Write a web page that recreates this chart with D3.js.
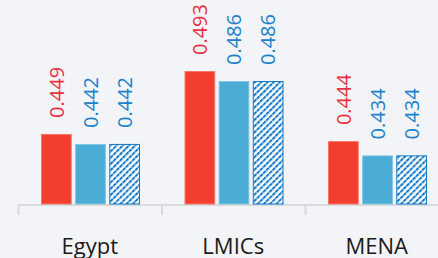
<!DOCTYPE html>
<html><head><meta charset="utf-8">
<script src="https://cdn.jsdelivr.net/npm/d3@7"></script>
<style>
html,body{margin:0;padding:0;background:#f3f4f7;}
svg{display:block;}
</style></head>
<body>
<svg id="chart" width="438" height="258"></svg>
<script>
const categories = ["Egypt", "LMICs", "MENA"];
const seriesNames = ["Series A", "Series B", "Series C"];
const seriesA = [0.449, 0.493, 0.444];
const seriesB = [0.442, 0.486, 0.434];
const seriesC = [0.442, 0.486, 0.434];
const labelsA = ["0.449", "0.493", "0.444"];
const labelsB = ["0.442", "0.486", "0.434"];
const labelsC = ["0.442", "0.486", "0.434"];

const svg = d3.select("#chart");
const W = 438, H = 258;
svg.append("rect").attr("width", W).attr("height", H).attr("fill", "#f3f4f7");

const defs = svg.append("defs");
const pat = defs.append("pattern").attr("id", "hatch").attr("patternUnits", "userSpaceOnUse")
  .attr("width", 4.4).attr("height", 4.4).attr("patternTransform", "rotate(45)");
pat.append("rect").attr("width", 4.4).attr("height", 4.4).attr("fill", "#ffffff");
pat.append("line").attr("x1", 1).attr("y1", 0).attr("x2", 1).attr("y2", 4.4)
  .attr("stroke", "#0c76c8").attr("stroke-width", 2).attr("stroke-dasharray", "2.4 0.6");

const baseY = 204;
const x = d3.scaleBand().domain(categories).range([18, 18 + 3 * 143.5]).padding(0);
const x1 = d3.scaleBand().domain(seriesNames).range([23, 122]).paddingInner(0.1);
const y = d3.scaleLinear().domain([0.4, 0.5]).range([baseY, baseY - 143]);

const seriesData = [
  {name: seriesNames[0], values: seriesA, labels: labelsA, fill: "#f23e2c", stroke: "#f7776b", text: "#e8303f"},
  {name: seriesNames[1], values: seriesB, labels: labelsB, fill: "#4badd6", stroke: "#7fc5e4", text: "#1b82cc"},
  {name: seriesNames[2], values: seriesC, labels: labelsC, fill: "url(#hatch)", stroke: "#1379c9", text: "#1b82cc"}
];

// axis line and ticks
svg.append("line").attr("x1", x(categories[0])).attr("x2", W).attr("y1", baseY + 1).attr("y2", baseY + 1)
  .attr("stroke", "#d9dadc").attr("stroke-width", 2);
svg.selectAll(".tick").data(categories).enter().append("line")
  .attr("x1", d => x(d) + 0.5).attr("x2", d => x(d) + 0.5).attr("y1", baseY).attr("y2", 215)
  .attr("stroke", "#d9dadc").attr("stroke-width", 2);

const g = svg.selectAll(".grp").data(categories).enter().append("g")
  .attr("transform", d => `translate(${x(d)},0)`);

seriesData.forEach(s => {
  g.append("rect")
    .attr("x", (d, i) => x1(s.name) + 0.5)
    .attr("y", (d, i) => y(s.values[i]) + 0.5)
    .attr("width", x1.bandwidth() - 1)
    .attr("height", (d, i) => baseY - y(s.values[i]) - 0.5)
    .attr("fill", s.fill).attr("stroke", s.stroke).attr("stroke-width", 1);
  g.append("text")
    .attr("transform", (d, i) => `translate(${x1(s.name) + x1.bandwidth() / 2},${y(s.values[i]) - 16}) rotate(-90)`)
    .attr("dy", "0.36em")
    .attr("font-family", "'Open Sans', sans-serif").attr("font-size", 20)
    .attr("fill", s.text)
    .text((d, i) => s.labels[i]);
});

g.append("text")
  .attr("x", x.bandwidth() / 2).attr("y", 254)
  .attr("text-anchor", "middle")
  .attr("font-family", "'Open Sans', sans-serif").attr("font-size", 22)
  .attr("fill", "#1a1a1a")
  .text(d => d);
</script>
</body></html>
